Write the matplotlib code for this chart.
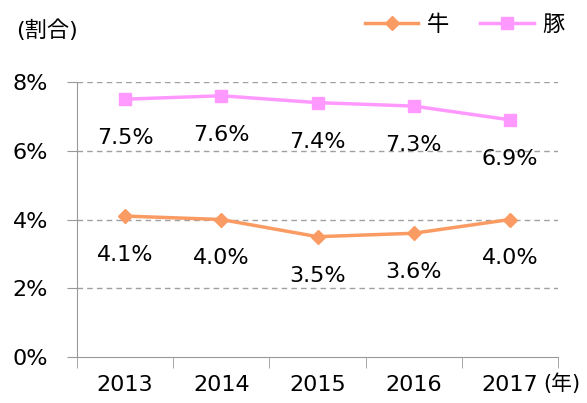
import matplotlib.pyplot as plt
from matplotlib.transforms import blended_transform_factory

plt.rcParams['font.family'] = ['DejaVu Sans', 'Noto Sans CJK JP']

years = ['2013', '2014', '2015', '2016', '2017']
beef = [4.1, 4.0, 3.5, 3.6, 4.0]
pork = [7.5, 7.6, 7.4, 7.3, 6.9]
beef_color = '#F99B63'
pork_color = '#FF99FF'

fig = plt.figure(figsize=(5.87, 4.03), dpi=100)
ax = fig.add_axes([0.1312, 0.1141, 0.8194, 0.6824])

x = list(range(len(years)))
ax.plot(x, beef, color=beef_color, lw=2.5, marker='D', ms=7, label='牛')
ax.plot(x, pork, color=pork_color, lw=2.5, marker='s', ms=9, label='豚')

for i in x:
    ax.annotate(f'{beef[i]:.1f}%', (i, beef[i]), xytext=(0, -28),
                textcoords='offset points', ha='center', va='center', fontsize=16)
    ax.annotate(f'{pork[i]:.1f}%', (i, pork[i]), xytext=(0, -28),
                textcoords='offset points', ha='center', va='center', fontsize=16)

ax.set_xlim(-0.5, 4.5)
ax.set_ylim(0, 8)
ax.set_yticks([0, 2, 4, 6, 8])
ax.set_yticklabels([f'{v}%' for v in [0, 2, 4, 6, 8]])
ax.set_xticks(x)
ax.set_xticklabels(years)
ax.set_xticks([i - 0.5 for i in range(6)], minor=True)
ax.tick_params(axis='x', which='major', length=0, pad=13, labelsize=16)
ax.tick_params(axis='x', which='minor', length=8, color='#999999')
ax.tick_params(axis='y', length=7, color='#999999', pad=14, labelsize=16)
for v in [2, 4, 6, 8]:
    ax.axhline(v, color='#A0A0A0', lw=1, ls=(0, (4, 3)), zorder=0)
for s in ['top', 'right']:
    ax.spines[s].set_visible(False)
for s in ['left', 'bottom']:
    ax.spines[s].set_color('#999999')

trans = blended_transform_factory(ax.transData, fig.transFigure)
ax.text(4.35, 1 - 384 / 403, '(年)', transform=trans, fontsize=15,
        ha='left', va='center')
fig.text(0.028, 0.925, '(割合)', fontsize=16, ha='left', va='center')
fig.legend(loc='center', bbox_to_anchor=(0.792, 0.938), ncol=2, frameon=False,
           fontsize=16, handlelength=2.4, columnspacing=1.4, handletextpad=0.4)

fig.savefig('out.png', dpi=100)
